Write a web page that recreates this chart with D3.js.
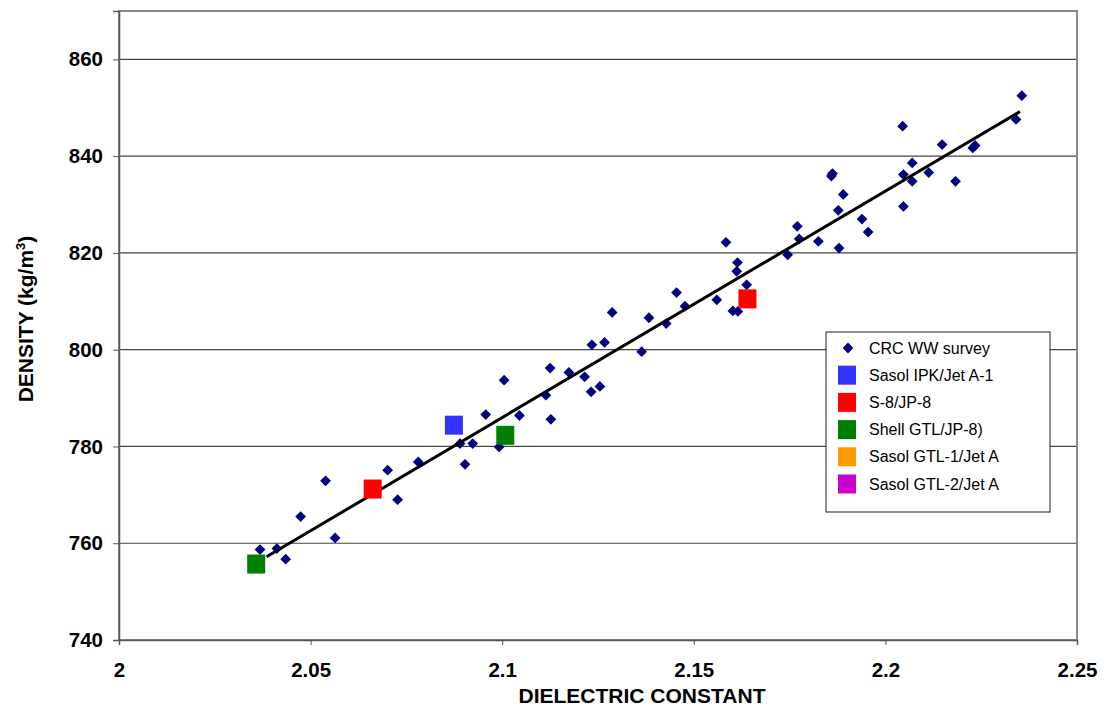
<!DOCTYPE html>
<html>
<head>
<meta charset="utf-8">
<script src="https://cdn.jsdelivr.net/npm/d3@7"></script>
<style>
    body { margin: 0; background: #fff; }
    text { font-family: Arial, "Liberation Sans", sans-serif; }
</style>
</head>
<body>
<div id="chart"></div>
<script>
// CRC world-wide survey: dielectric constant / density (kg/m3)
const crcDielectric = [2.0368, 2.0412, 2.0435, 2.0474, 2.0539, 2.0564, 2.0701, 2.0727, 2.0781, 2.0890,
    2.0923, 2.0903, 2.0992, 2.0957, 2.1045, 2.1005, 2.1127, 2.1114, 2.1125, 2.1174,
    2.1215, 2.1232, 2.1255, 2.1234, 2.1267, 2.1287, 2.1364, 2.1383, 2.1428, 2.1455,
    2.1477, 2.1560, 2.1584, 2.1614, 2.1612, 2.1638, 2.1602, 2.1615, 2.1745, 2.1770,
    2.1775, 2.1825, 2.1879, 2.1859, 2.1862, 2.1890, 2.1877, 2.1939, 2.1955, 2.2045,
    2.2047, 2.2070, 2.2070, 2.2047, 2.2113, 2.2148, 2.2183, 2.2228, 2.2234, 2.2341,
    2.2356];
const crcDensity = [758.7, 758.9, 756.7, 765.5, 772.9, 761.1, 775.1, 769.0, 776.8, 780.6,
    780.6, 776.3, 779.9, 786.6, 786.4, 793.7, 785.6, 790.6, 796.2, 795.3,
    794.4, 791.3, 792.4, 801.0, 801.5, 807.7, 799.6, 806.6, 805.4, 811.8,
    809.0, 810.3, 822.2, 818.0, 816.2, 813.4, 808.0, 807.9, 819.6, 825.5,
    822.9, 822.4, 821.0, 835.9, 836.4, 832.1, 828.8, 827.0, 824.3, 846.2,
    836.2, 838.6, 834.8, 829.6, 836.6, 842.4, 834.8, 841.7, 842.2, 847.6,
    852.5];

// synthetic fuels
const ipkDielectric = [2.0874];
const ipkDensity = [784.4];
const s8Dielectric = [2.0662, 2.1640];
const s8Density = [771.2, 810.5];
const shellDielectric = [2.0358, 2.1008];
const shellDensity = [755.7, 782.3];
const gtl1Dielectric = [];
const gtl1Density = [];
const gtl2Dielectric = [];
const gtl2Density = [];

// trend line end points
const trendDielectric = [2.0385, 2.2351];
const trendDensity = [757.2, 849.2];

const xTicks = [2, 2.05, 2.1, 2.15, 2.2, 2.25];
const yTicks = [740, 760, 780, 800, 820, 840, 860];
const legendLabels = ['CRC WW survey', 'Sasol IPK/Jet A-1', 'S-8/JP-8', 'Shell GTL/JP-8)', 'Sasol GTL-1/Jet A', 'Sasol GTL-2/Jet A'];
const legendColors = ['#000080', '#3333ff', '#ff0000', '#008000', '#ff9900', '#cc00cc'];

const width = 1103;
const height = 707;
const plot = {left: 119, right: 1077, top: 11, bottom: 640};

const svg = d3.select('#chart').append('svg')
    .attr('width', width)
    .attr('height', height);

const x = d3.scaleLinear().domain([2, 2.25]).range([plot.left, plot.right]);
const y = d3.scaleLinear().domain([740, 870]).range([plot.bottom, plot.top]);

// gridlines
svg.append('g')
    .selectAll('line')
    .data(yTicks.slice(1))
    .enter()
    .append('line')
    .attr('x1', plot.left)
    .attr('x2', plot.right)
    .attr('y1', d => y(d))
    .attr('y2', d => y(d))
    .attr('stroke', '#444')
    .attr('stroke-width', 1.2);

// plot border
svg.append('rect')
    .attr('x', plot.left)
    .attr('y', plot.top)
    .attr('width', plot.right - plot.left)
    .attr('height', plot.bottom - plot.top)
    .attr('fill', 'none')
    .attr('stroke', '#8a8a8a')
    .attr('stroke-width', 2);

// axes
const xAxis = svg.append('g')
    .attr('transform', `translate(0,${plot.bottom})`)
    .call(d3.axisBottom(x).tickValues(xTicks).tickSize(5).tickPadding(17).tickFormat(d3.format('')));
const yAxis = svg.append('g')
    .attr('transform', `translate(${plot.left},0)`)
    .call(d3.axisLeft(y).tickValues(yTicks).tickSize(6).tickPadding(10));

[xAxis, yAxis].forEach(g => {
    g.select('.domain').attr('stroke', '#555').attr('stroke-width', 1.5);
    g.selectAll('.tick line').attr('stroke', '#555');
    g.selectAll('.tick text')
        .attr('fill', '#000')
        .attr('font-size', '20.5px')
        .attr('font-weight', 'bold')
        .attr('font-family', 'Arial, "Liberation Sans", sans-serif');
});

// axis titles
svg.append('text')
    .attr('x', 642)
    .attr('y', 703)
    .attr('text-anchor', 'middle')
    .attr('font-size', '21px')
    .attr('font-weight', 'bold')
    .text('DIELECTRIC CONSTANT');

const yTitle = svg.append('text')
    .attr('transform', 'translate(33,319) rotate(-90)')
    .attr('text-anchor', 'middle')
    .attr('font-size', '21px')
    .attr('font-weight', 'bold');
yTitle.append('tspan').text('DENSITY (kg/m');
yTitle.append('tspan').attr('font-size', '13px').attr('dy', '-8').text('3');
yTitle.append('tspan').attr('dy', '8').text(')');

// CRC survey diamonds
const diamond = d3.symbol().type(d3.symbolSquare).size(58);
svg.append('g')
    .selectAll('path')
    .data(d3.zip(crcDielectric, crcDensity))
    .enter()
    .append('path')
    .attr('d', diamond)
    .attr('transform', d => `translate(${x(d[0])},${y(d[1])}) rotate(45)`)
    .attr('fill', legendColors[0]);

// trend line
svg.append('line')
    .attr('x1', x(trendDielectric[0]))
    .attr('y1', y(trendDensity[0]))
    .attr('x2', x(trendDielectric[1]))
    .attr('y2', y(trendDensity[1]))
    .attr('stroke', '#000')
    .attr('stroke-width', 3);

// synthetic fuel squares
const fuels = [
    [ipkDielectric, ipkDensity, legendColors[1]],
    [s8Dielectric, s8Density, legendColors[2]],
    [shellDielectric, shellDensity, legendColors[3]],
    [gtl1Dielectric, gtl1Density, legendColors[4]],
    [gtl2Dielectric, gtl2Density, legendColors[5]]
];
fuels.forEach(f => {
    svg.append('g')
        .selectAll('rect')
        .data(d3.zip(f[0], f[1]))
        .enter()
        .append('rect')
        .attr('x', d => x(d[0]) - 9)
        .attr('y', d => y(d[1]) - 9.5)
        .attr('width', 18)
        .attr('height', 19)
        .attr('fill', f[2]);
});

// legend
const legend = svg.append('g').attr('transform', 'translate(826,332)');
legend.append('rect')
    .attr('width', 224)
    .attr('height', 180)
    .attr('fill', '#fff')
    .attr('stroke', '#222')
    .attr('stroke-width', 1);

const rows = legend.selectAll('.row')
    .data(legendLabels)
    .enter()
    .append('g')
    .attr('class', 'row')
    .attr('transform', (d, i) => `translate(0,${16 + i * 27.2})`);

rows.each(function (d, i) {
    let g = d3.select(this);
    if (i === 0) {
        g.append('path')
            .attr('d', diamond)
            .attr('transform', 'translate(22,0) rotate(45)')
            .attr('fill', legendColors[0]);
    } else {
        g.append('rect')
            .attr('x', 12)
            .attr('y', -9.5)
            .attr('width', 18)
            .attr('height', 19)
            .attr('fill', legendColors[i]);
    }
    g.append('text')
        .attr('x', 43)
        .attr('y', 5.5)
        .attr('font-size', '16px')
        .attr('fill', '#000')
        .text(d);
});
</script>
</body>
</html>
